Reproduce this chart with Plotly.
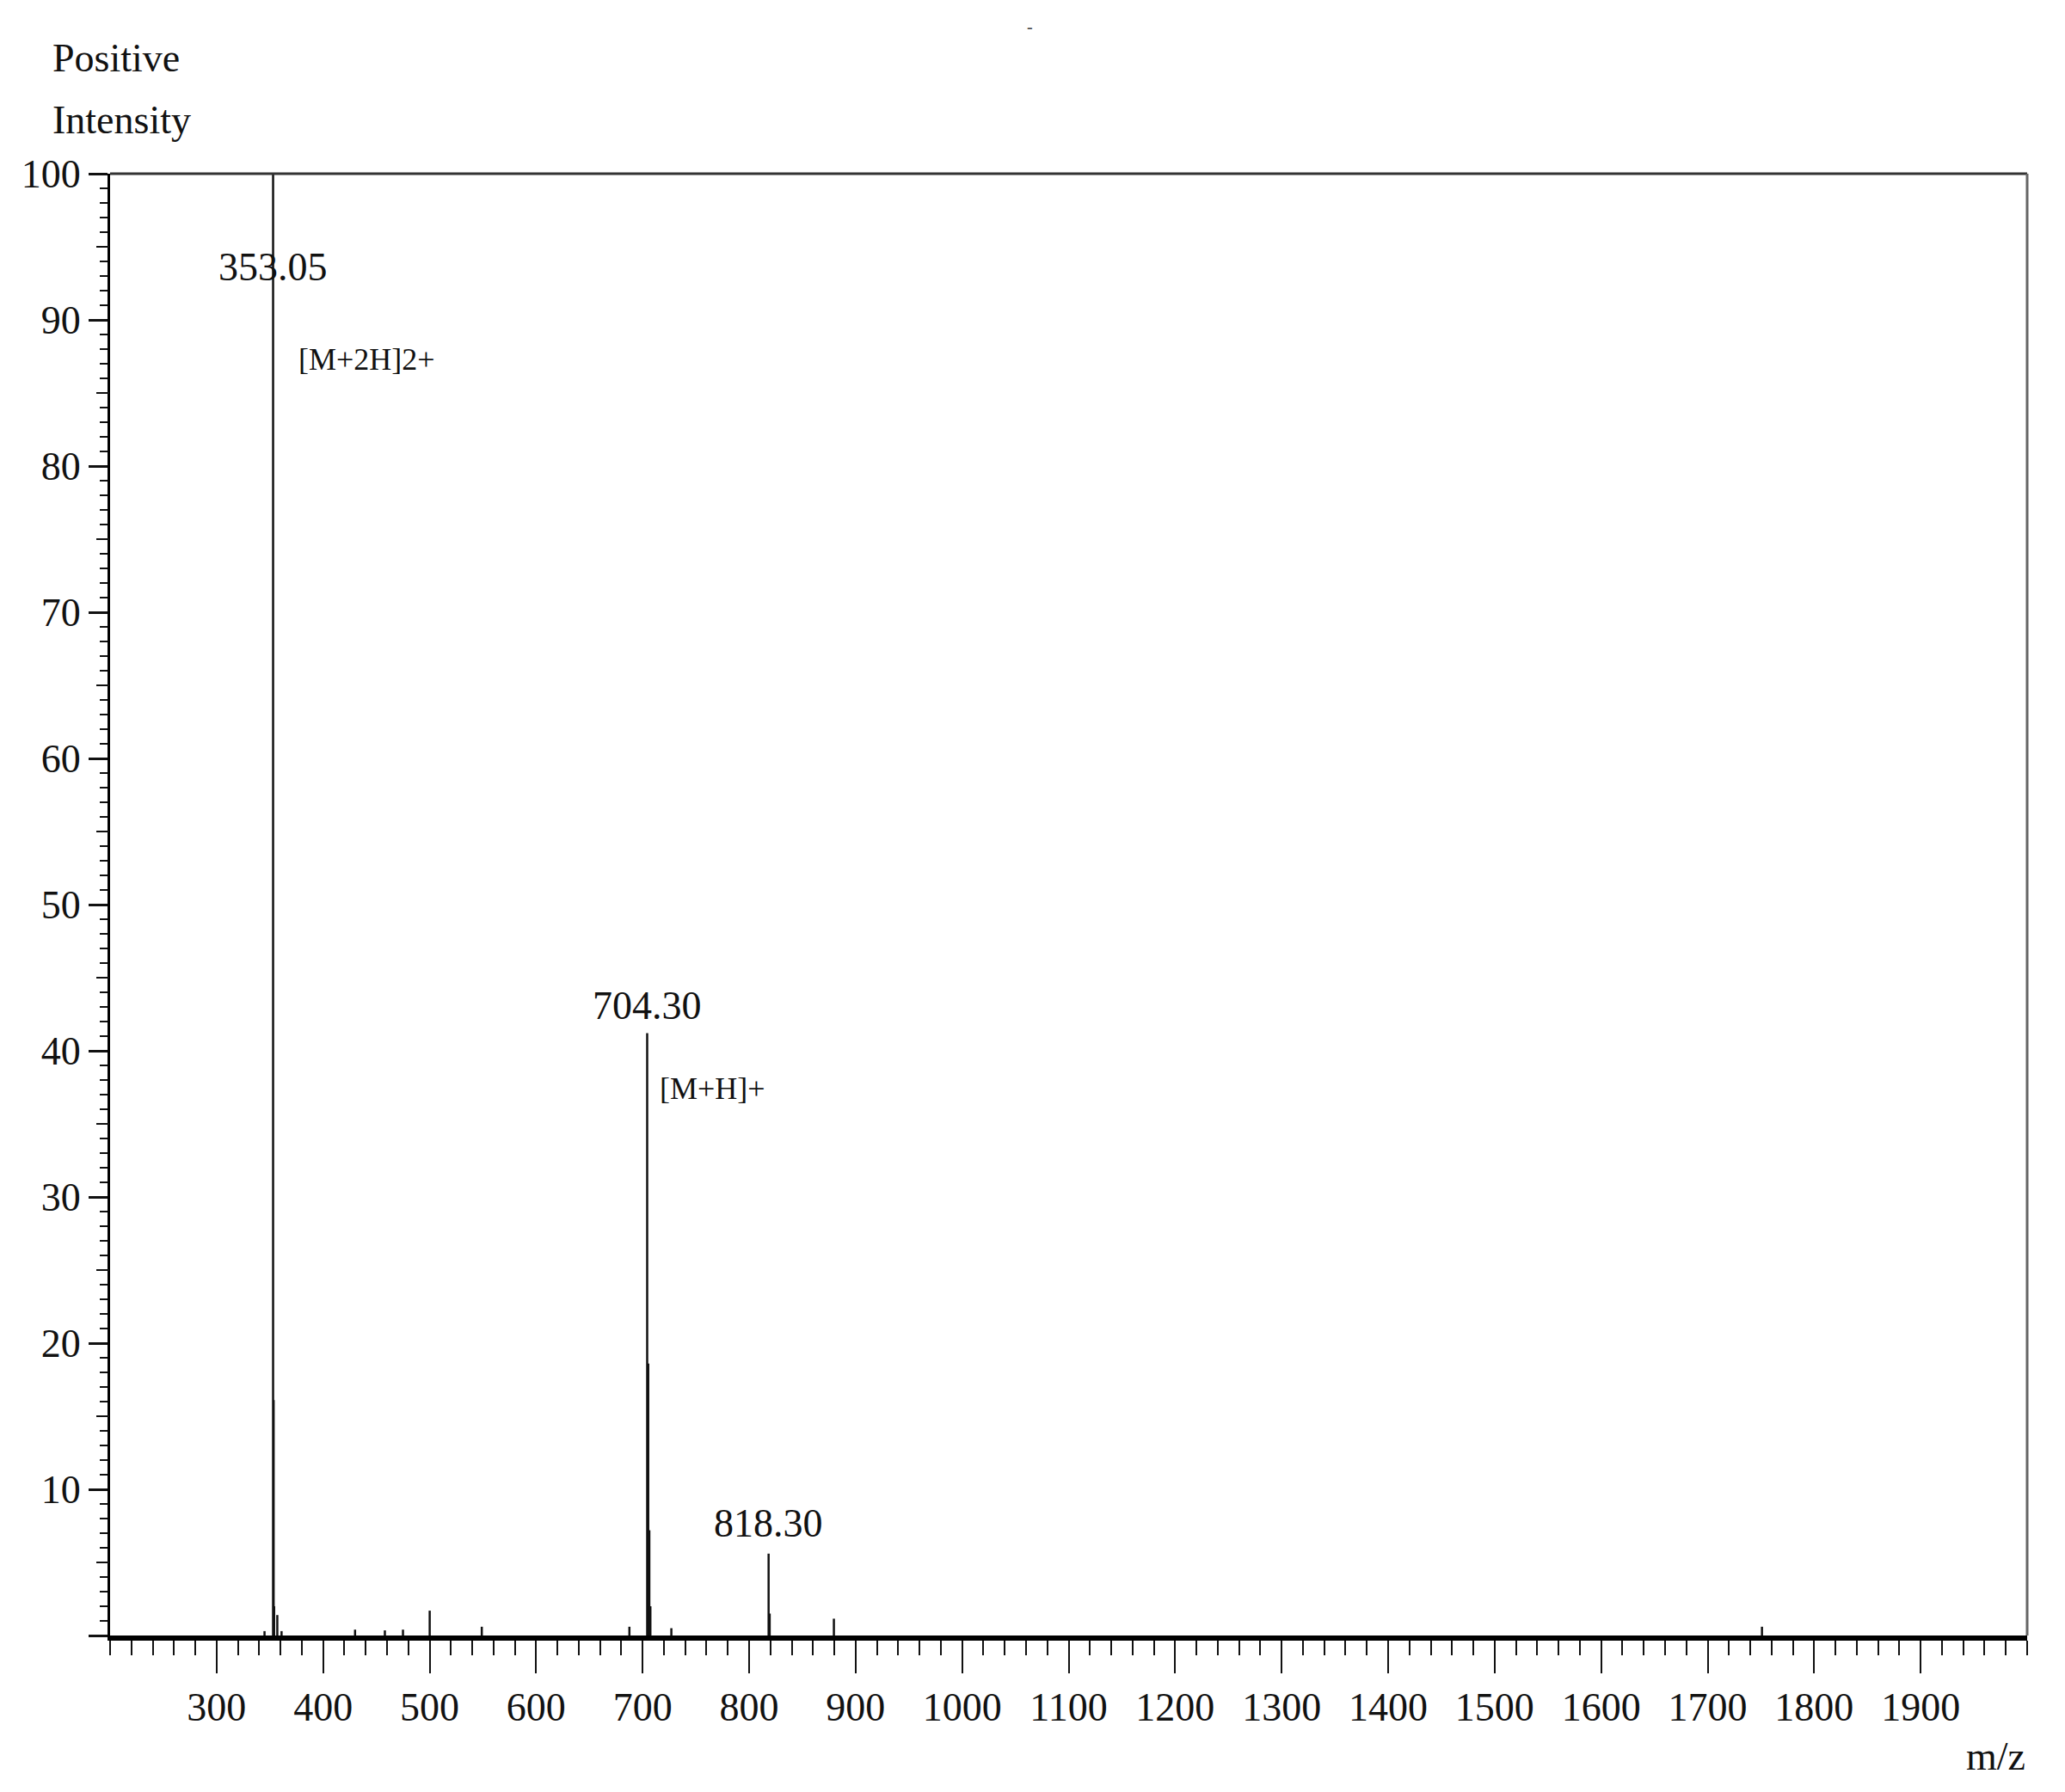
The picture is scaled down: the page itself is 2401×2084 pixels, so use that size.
import plotly.graph_objects as go

# stick spectrum (m/z, relative intensity %)
peak_mz = [345.0, 353.05, 353.55, 354.05, 357.0, 361.0, 430.0, 458.0, 475.0, 500.1,
           549.0, 687.6, 704.30, 705.30, 706.30, 707.30, 727.0, 818.30, 819.30, 879.6, 1751.0]
peak_int = [0.3, 100.0, 16.1, 2.0, 1.4, 0.3, 0.4, 0.35, 0.4, 1.7,
            0.6, 0.6, 41.2, 18.6, 7.2, 2.0, 0.5, 5.6, 1.5, 1.15, 0.6]

# labelled peaks
label_mz = [353.05, 704.30, 818.30]
label_y = [93.6, 43.1, 7.7]
label_text = ["353.05", "704.30", "818.30"]

# ion annotations
ion_mz = [375.0, 714.0]
ion_y = [87.3, 37.4]
ion_text = ["[M+2H]2+", "[M+H]+"]

x_ticks = [300, 400, 500, 600, 700, 800, 900, 1000, 1100, 1200,
           1300, 1400, 1500, 1600, 1700, 1800, 1900]
y_ticks = [0, 10, 20, 30, 40, 50, 60, 70, 80, 90, 100]
y_ticktext = ["", "10", "20", "30", "40", "50", "60", "70", "80", "90", "100"]
y_mid_ticks = [5, 15, 25, 35, 45, 55, 65, 75, 85, 95]

FONT = "Liberation Serif, Times New Roman, serif"
INK = "#111111"

xs, ys = [], []
for m, h in zip(peak_mz, peak_int):
    xs += [m, m, None]
    ys += [0, h, None]

fig = go.Figure()
fig.add_trace(go.Scatter(x=xs, y=ys, mode="lines",
                         line=dict(color=INK, width=2.5),
                         hoverinfo="skip", showlegend=False))
# dummy trace so the 5-unit tick axis gets drawn
fig.add_trace(go.Scatter(x=[None], y=[None], yaxis="y2", showlegend=False))

annotations = []
for m, y, t in zip(label_mz, label_y, label_text):
    annotations.append(dict(x=m, y=y, text=t, showarrow=False, xanchor="center",
                            yanchor="middle", font=dict(family=FONT, size=46, color=INK)))
for m, y, t in zip(ion_mz, ion_y, ion_text):
    annotations.append(dict(x=m, y=y, text=t, showarrow=False, xanchor="left",
                            yanchor="middle", font=dict(family=FONT, size=36, color=INK)))

annotations += [
    dict(x=-0.031, y=1.0794, xref="paper", yref="paper", text="Positive", showarrow=False,
         xanchor="left", yanchor="middle", font=dict(family=FONT, size=46, color=INK)),
    dict(x=-0.031, y=1.037, xref="paper", yref="paper", text="Intensity", showarrow=False,
         xanchor="left", yanchor="middle", font=dict(family=FONT, size=46, color=INK)),
    dict(x=1.0, y=-0.0824, xref="paper", yref="paper", text="m/z", showarrow=False,
         xanchor="right", yanchor="middle", font=dict(family=FONT, size=46, color=INK)),
    dict(x=0.480, y=1.1006, xref="paper", yref="paper", text="-", showarrow=False,
         xanchor="center", yanchor="middle", font=dict(family=FONT, size=20, color="#444")),
]

fig.update_layout(
    width=2401, height=2084,
    margin=dict(l=120, r=52, t=194, b=190),
    plot_bgcolor="white", paper_bgcolor="white",
    showlegend=False,
    annotations=annotations,
    shapes=[
        dict(type="line", xref="paper", yref="paper", x0=0, x1=1, y0=1, y1=1,
             line=dict(color="#333333", width=3)),
        dict(type="line", xref="paper", yref="paper", x0=1, x1=1, y0=0, y1=1,
             line=dict(color="#666666", width=3)),
    ],
    xaxis=dict(
        range=[200, 2000], tickvals=x_ticks, ticks="outside", ticklen=38, tickwidth=2,
        tickcolor=INK, showline=True, linewidth=6, linecolor="#000000",
        showgrid=False, zeroline=False,
        tickfont=dict(family=FONT, size=46, color=INK),
        minor=dict(dtick=20, tick0=200, ticks="outside", ticklen=17, tickwidth=2,
                   tickcolor=INK, showgrid=False),
    ),
    yaxis=dict(
        range=[0, 100], tickvals=y_ticks, ticktext=y_ticktext, ticks="outside",
        ticklen=22, tickwidth=3, tickcolor=INK, showline=True, linewidth=3,
        linecolor="#000000", showgrid=False, zeroline=False,
        tickfont=dict(family=FONT, size=46, color=INK),
        minor=dict(dtick=1, tick0=0, ticks="outside", ticklen=9, tickwidth=2,
                   tickcolor=INK, showgrid=False),
    ),
    yaxis2=dict(
        range=[0, 100], overlaying="y", anchor="x", side="left", tickvals=y_mid_ticks,
        ticks="outside", ticklen=15, tickwidth=2, tickcolor=INK,
        showticklabels=False, showline=False, showgrid=False, zeroline=False,
    ),
)

fig.write_html("out.html")
